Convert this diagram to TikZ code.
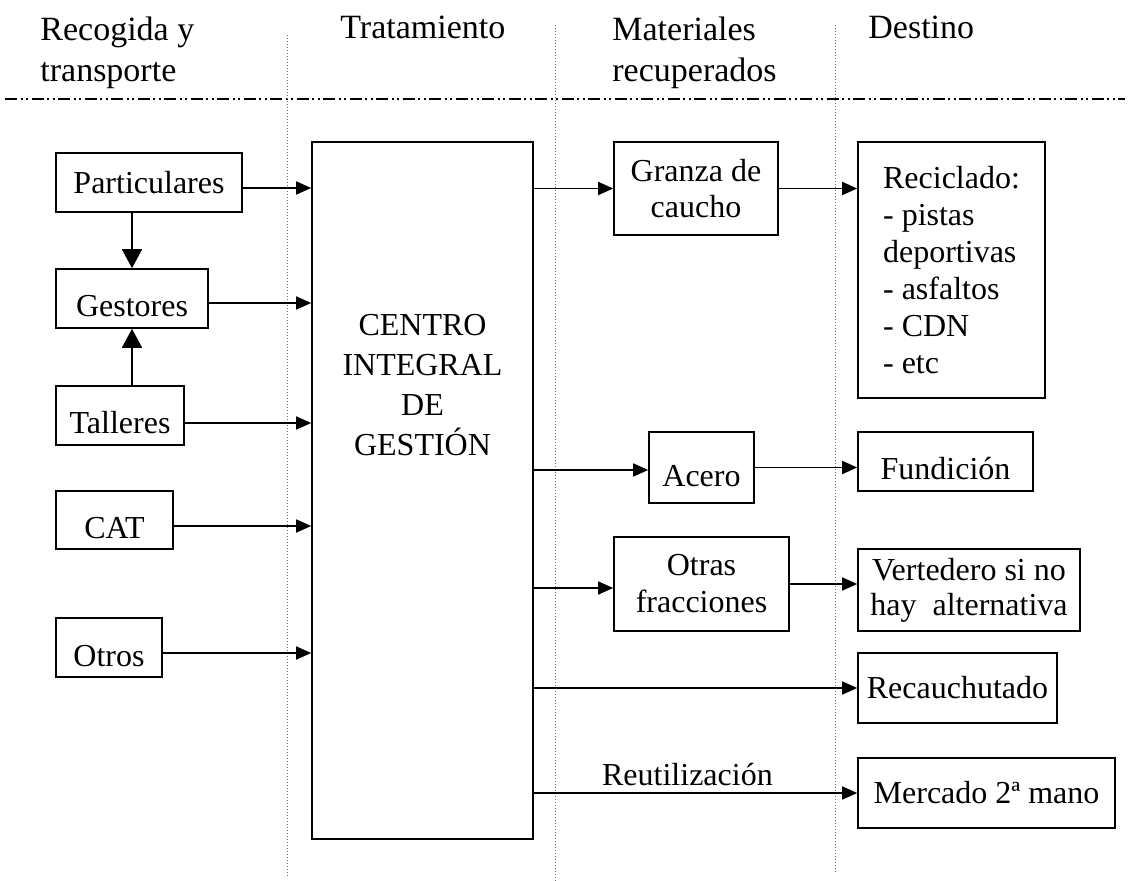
\documentclass[tikz,border=0pt]{standalone}
\usepackage{fontspec}
\setmainfont{Liberation Serif}
\usetikzlibrary{arrows.meta,positioning}
\definecolor{guideGray}{RGB}{110,110,110}
\tikzset{
  flowBox/.style 2 args={rectangle,draw=black,line width=0.8pt,inner sep=0pt,
                 minimum width=#1,minimum height=#2,align=center},
  lowText/.style={text height=18.5pt,text depth=0pt},
  flowArrow/.style={-{Triangle[length=7.5pt,width=6.5pt]},line width=0.8pt},
  vArrow/.style={-{Triangle[length=9.5pt,width=10pt]},line width=0.8pt},
  headText/.style={inner sep=0pt,align=left,font=\fontsize{17}{20.5}\selectfont},
  colLine/.style={guideGray,densely dotted,line width=0.5pt},
  sepLine/.style={line width=0.75pt,
                  dash pattern=on 6pt off 1.75pt on 1pt off 1.75pt on 1pt off 1.75pt},
}
\begin{document}
\begin{tikzpicture}[x=0.5pt,y=-0.5pt,font=\fontsize{16}{18.5}\selectfont]
  \useasboundingbox (0,0) rectangle (1128,881);
  % cabecera
  \node[headText,anchor=west] (hRecogida) at (40,53) {Recogida y\\transporte};
  \node[headText,anchor=base west] (hTrat) at (340,39) {Tratamiento};
  \node[headText,anchor=west] (hMat) at (612,53) {Materiales\\recuperados};
  \node[headText,anchor=base west] (hDest) at (868,39) {Destino};
  \draw[sepLine] (5,99) -- (1125,99);
  \foreach \x/\a/\b in {287/35/878,555/25/881,835/25/872}{\draw[colLine] (\x,\a) -- (\x,\b);}
  % recogida
  \node[flowBox={93pt}{29.5pt}] (part) at (149,182.5) {Particulares};
  \node[flowBox={76pt}{29.5pt},lowText] (gest) at (132,298.5) {Gestores};
  \node[flowBox={64pt}{29.5pt},lowText] (tall) at (120,415.5) {Talleres};
  \node[flowBox={58.5pt}{29pt},lowText] (cat) at (114.5,520) {CAT};
  \node[flowBox={53pt}{29.5pt},lowText] (otros) at (109,647.5) {Otros};
  % tratamiento
  \node[flowBox={110.5pt}{348.5pt}] (centro) at (422.5,490.5) {};
  \node[align=center,font=\fontsize{16}{20}\selectfont] (centroTxt) at (422.5,385)
      {CENTRO\\INTEGRAL\\DE\\GESTIÓN};
  % materiales y destino
  \node[flowBox={82pt}{46.5pt},font=\fontsize{16}{18}\selectfont] (granza) at (696,188.5) {Granza de\\caucho};
  \node[flowBox={93.5pt}{128pt},align=left] (recic) at (951.5,270)
      {Reciclado:\\- pistas\\deportivas\\- asfaltos\\- CDN\\- etc};
  \node[flowBox={52.5pt}{35.5pt},lowText] (acero) at (701.5,467.5) {Acero};
  \node[flowBox={87.5pt}{29.5pt},lowText] (fund) at (945.5,461.5) {Fundición};
  \node[flowBox={87.5pt}{47pt}] (otras) at (701.5,584) {Otras\\fracciones};
  \node[flowBox={111pt}{41pt},font=\fontsize{16}{17.5}\selectfont] (vert) at (969,590)
      {Vertedero si no\\hay\ \ alternativa};
  \node[flowBox={99.5pt}{35pt}] (recau) at (957.5,688) {Recauchutado};
  \node[flowBox={128.5pt}{35pt}] (merc) at (986.5,793) {Mercado 2ª mano};
  % flechas
  \foreach \n/\s in {part/-2.75,gest/-2.25,tall/-3.75,cat/-3,otros/-2.75}{
    \draw[flowArrow] ([yshift=\s pt]\n.east) -- ([yshift=\s pt]\n.east -| centro.west);}
  \draw[vArrow] (gest.north |- part.south) -- (gest.north);
  \draw[vArrow] (gest.south |- tall.north) -- (gest.south);
  \foreach \n/\s in {granza/0,acero/-1.25,otras/-2,recau/0}{
    \draw[flowArrow] ([yshift=\s pt]\n.west -| centro.east) -- ([yshift=\s pt]\n.west);}
  \draw[flowArrow] (merc.west -| centro.east) -- node[above,pos=0.475]{Reutilización} (merc.west);
  \foreach \x/\y in {granza/recic,acero/fund,otras/vert}{\draw[flowArrow] (\x.east) -- (\x.east -| \y.west);}
\end{tikzpicture}
\end{document}
